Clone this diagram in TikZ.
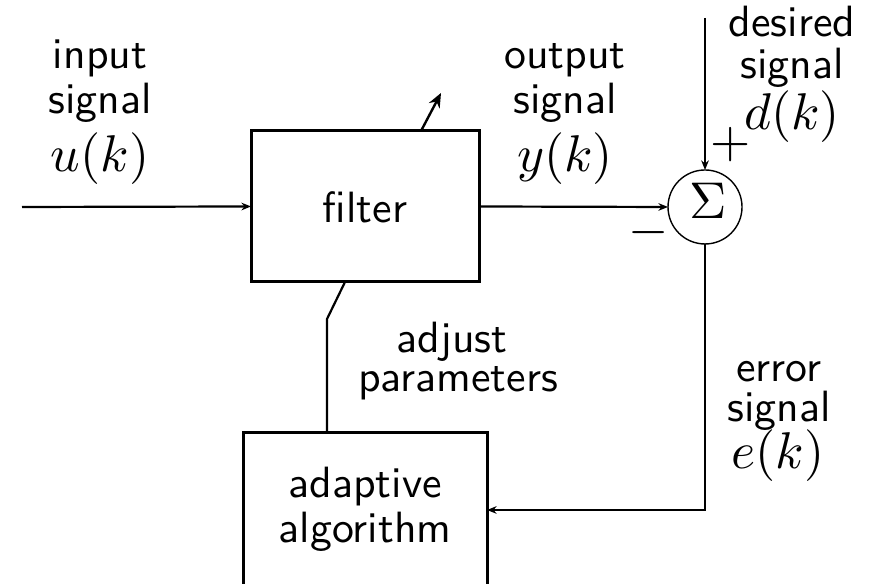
\documentclass[tikz,border=0pt]{standalone}
\usepackage{graphicx}
\usetikzlibrary{arrows.meta}
\newcommand{\bigmath}[1]{\scalebox{1.18}{$#1$}}
\begin{document}
\begin{tikzpicture}[x=0.25pt,y=-0.25pt,
  every node/.style={font=\fontsize{10.95}{13}\selectfont\sffamily},
  lbl/.style={inner sep=0pt,anchor=base},
  blockbox/.style={draw,line width=0.75pt,inner sep=0pt,outer sep=0pt},
  sumnode/.style={draw,circle,line width=0.35pt,minimum size=18.5pt,inner sep=0pt,outer sep=0pt},
  conn/.style={line width=0.55pt},
  arr/.style={conn,-{Stealth[length=2.4pt,width=1.9pt]}},
  bigarr/.style={line width=0.6pt,-{Stealth[length=3.6pt,width=3pt]}}]
\useasboundingbox (0,0) rectangle (875,584);
\clip (0,0) rectangle (875,584);
% blocks
\node[blockbox,minimum width=57pt,minimum height=37.75pt] (filter) at (365,206.5) {};
\node[lbl] (filtertxt) at (365,223) {filter};
\node[blockbox,minimum width=61pt,minimum height=38.5pt] (adapt) at (365,510) {};
\node[lbl] (adapt1) at (365,498) {adaptive};
\node[lbl] (adapt2) at (365,543) {algorithm};
\node[sumnode] (sum) at (705,207) {};
\node[lbl] (sigma) at (708,219) {\bigmath{\Sigma}};
% coordinates
\coordinate (instart) at (22,207);
\coordinate (dtop) at (705,18);
\coordinate (bend) at (327,319);
\coordinate (fbot) at (345,282);
\coordinate (pa) at (421,131);
\coordinate (pb) at (441,93);
% connectors
\draw[arr] (instart) -- (filter.west);
\draw[arr] (filter.east) -- (sum.west);
\draw[arr] (dtop) -- (sum.north);
\draw[arr] (sum.south) |- (adapt.east);
\draw[conn] (bend |- adapt.north) -- (bend) -- (fbot);
\draw[bigarr] (pa) -- (pb);
% labels
\node[lbl] (in1) at (100,69) {input};
\node[lbl] (in2) at (100,114) {signal};
\node[lbl] (in3) at (100,172) {\bigmath{u(k)}};
\node[lbl] (out1) at (565,69) {output};
\node[lbl] (out2) at (565,114) {signal};
\node[lbl] (out3) at (565,172) {\bigmath{y(k)}};
\node[lbl] (des1) at (792,37) {desired};
\node[lbl] (des2) at (792,79) {signal};
\node[lbl] (des3) at (792,130) {\bigmath{d(k)}};
\node (plus) at (731,145) {\bigmath{+}};
\node (minus) at (649,233) {\bigmath{-}};
\node[lbl] (adj1) at (452,353) {adjust};
\node[lbl] (adj2) at (458,392) {parameters};
\node[lbl] (err1) at (779,382) {error};
\node[lbl] (err2) at (779,422) {signal};
\node[lbl] (err3) at (778,469) {\bigmath{e(k)}};
\end{tikzpicture}
\end{document}
